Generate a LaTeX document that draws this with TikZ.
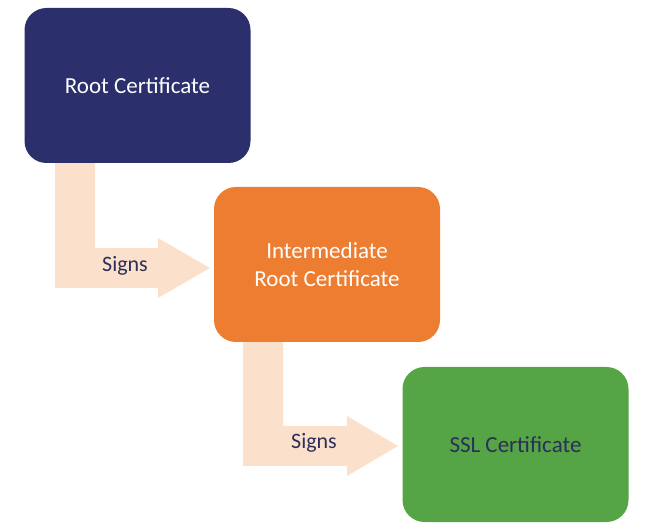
\documentclass[tikz,border=0pt]{standalone}
\usepackage{fontspec}
\setmainfont{Carlito}
\definecolor{navy}{HTML}{2B2F6B}
\definecolor{orng}{HTML}{ED7D31}
\definecolor{grn}{HTML}{55A546}
\definecolor{peach}{HTML}{FBE1CC}
\definecolor{lbl}{HTML}{2E2E5A}
\tikzset{cert/.style={rounded corners=22pt,minimum width=226pt,minimum height=155pt,align=center,font=\fontsize{23}{28}\selectfont},
bent/.style={fill=peach,draw=none},
lab/.style={font=\fontsize{22}{26}\selectfont,text=lbl}}
\begin{document}
\begin{tikzpicture}[x=1pt,y=-1pt]
\useasboundingbox (0,0) rectangle (670,529);
\fill[bent] (55,163) -- (95,163) -- (95,248) -- (158,248) -- (158,238) -- (210,268) -- (158,298) -- (158,288) -- (55,288) -- cycle;
\fill[bent] (243,342) -- (283,342) -- (283,426) -- (347,426) -- (347,416) -- (398,446) -- (347,476) -- (347,466) -- (243,466) -- cycle;
\node[cert,fill=navy,text=white] (root) at (137.5,85.5) {Root Certificate};
\node[cert,fill=orng,text=white] (inter) at (327,264.5) {Intermediate\\Root Certificate};
\node[cert,fill=grn,text=lbl] (ssl) at (515.5,444.5) {SSL Certificate};
\node[lab] (s1) at (125,266) {Signs};
\node[lab] (s2) at (314,443) {Signs};
\end{tikzpicture}
\end{document}
